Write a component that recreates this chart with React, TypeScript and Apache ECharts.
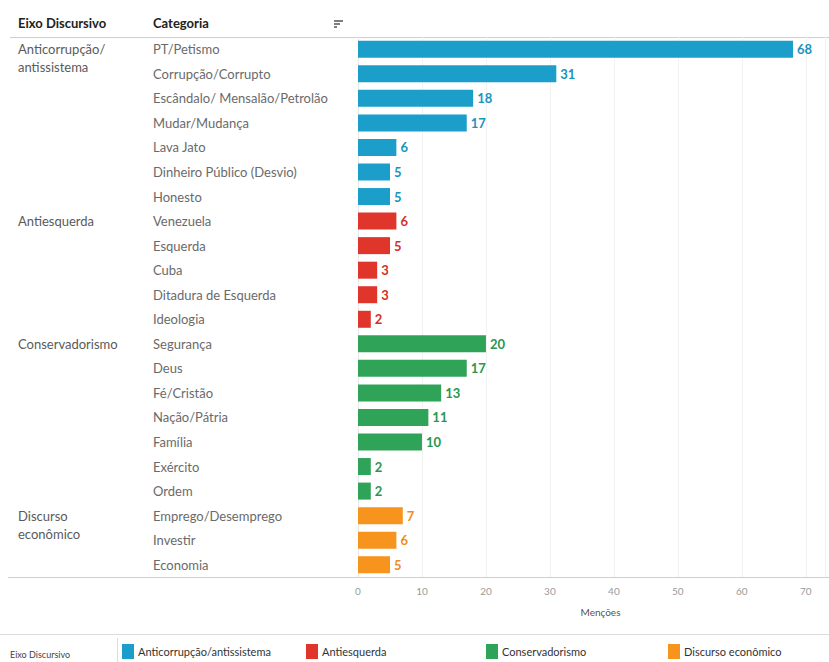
import React, { useEffect, useRef } from "react";
import * as echarts from "echarts";

const categories = [
  "PT/Petismo", "Corrupção/Corrupto", "Escândalo/ Mensalão/Petrolão", "Mudar/Mudança", "Lava Jato", "Dinheiro Público (Desvio)", "Honesto",
  "Venezuela", "Esquerda", "Cuba", "Ditadura de Esquerda", "Ideologia",
  "Segurança", "Deus", "Fé/Cristão", "Nação/Pátria", "Família", "Exército", "Ordem",
  "Emprego/Desemprego", "Investir", "Economia",
];
const values = [68, 31, 18, 17, 6, 5, 5, 6, 5, 3, 3, 2, 20, 17, 13, 11, 10, 2, 2, 7, 6, 5];
const groups = ["Anticorrupção/antissistema", "Antiesquerda", "Conservadorismo", "Discurso econômico"];
const groupLabels = ["Anticorrupção/\nantissistema", "Antiesquerda", "Conservadorismo", "Discurso\neconômico"];
const groupSizes = [7, 5, 7, 3];
const colors = ["#1b9fca", "#e0352b", "#2fa358", "#f7941d"];
const labelColors = ["#1a93bd", "#d42f26", "#2a9650", "#ef8c1a"];
const xTicks = { min: 0, max: 73, interval: 10 };

const FONT = "Lato";

export default function App() {
  const ref = useRef<HTMLDivElement>(null);
  useEffect(() => {
    document.body.style.margin = "0";
    const chart = echarts.init(ref.current!, null, { renderer: "svg" });
    const groupOf: number[] = [];
    const firstIdx: Record<number, number> = {};
    let k = 0;
    groupSizes.forEach((n, g) => {
      firstIdx[k] = g;
      for (let i = 0; i < n; i++) { groupOf.push(g); k++; }
    });
    const series = groups.map((g, gi) => ({
      type: "bar",
      name: g,
      stack: "total",
      yAxisIndex: 0,
      barWidth: 17,
      itemStyle: { color: colors[gi] },
      label: {
        show: true,
        position: "right",
        distance: 4,
        color: labelColors[gi],
        fontWeight: "bold",
        fontSize: 13,
        fontFamily: FONT,
      },
      data: values.map((v, i) => (groupOf[i] === gi ? v : null)),
    }));
    const legendX = [122, 306, 486, 668];
    chart.setOption({
      animation: false,
      textStyle: { fontFamily: FONT },
      grid: { left: 358, right: 4, top: 37, bottom: 85, containLabel: false },
      xAxis: {
        type: "value",
        min: xTicks.min,
        max: xTicks.max,
        interval: xTicks.interval,
        axisLine: { show: false },
        axisTick: { show: false },
        splitLine: { show: true, lineStyle: { color: "#f1f1f1" } },
        axisLabel: {
          color: "#9a9a9a",
          fontSize: 10,
          margin: 9,
          formatter: (v: number) => (v % 10 === 0 ? String(v) : ""),
        },
        name: "Menções",
        nameLocation: "middle",
        nameGap: 30,
        nameTextStyle: { color: "#555", fontSize: 10, padding: [0, 0, 0, 18] },
      },
      yAxis: [
        {
          type: "category",
          inverse: true,
          data: categories,
          axisLine: { show: true, lineStyle: { color: "#e8e8e8" } },
          axisTick: { show: false },
          axisLabel: {
            interval: 0,
            align: "left",
            margin: 205,
            color: "#6a6a6a",
            fontSize: 13,
            fontFamily: FONT,
          },
        },
        {
          type: "category",
          inverse: true,
          position: "left",
          data: categories,
          axisLine: { show: false },
          axisTick: { show: false },
          axisLabel: {
            interval: 0,
            align: "left",
            margin: 340,
            color: "#5a5a5a",
            fontSize: 13,
            lineHeight: 18,
            fontFamily: FONT,
            formatter: (_v: string, i: number) => {
              const g = firstIdx[i];
              if (g === undefined) return "";
              const lbl = groupLabels[g];
              return lbl.includes("\n") ? "\u00a0\n" + lbl : lbl;
            },
          },
        },
      ],
      legend: groups.map((g, gi) => ({
        data: [g],
        left: legendX[gi],
        top: 644,
        padding: 0,
        icon: "rect",
        itemWidth: 12,
        itemHeight: 15,
        itemGap: 4,
        selectedMode: false,
        textStyle: { fontSize: 11, color: "#333", fontFamily: FONT, padding: [0, 0, 0, -1] },
      })),
      series,
      graphic: [
        { type: "text", left: 18, top: 16, style: { text: "Eixo Discursivo", fontSize: 13, fontWeight: "bold", fill: "#222", fontFamily: FONT } },
        { type: "text", left: 153, top: 16, style: { text: "Categoria", fontSize: 13, fontWeight: "bold", fill: "#222", fontFamily: FONT } },
        { type: "line", shape: { x1: 334, y1: 21, x2: 343, y2: 21 }, style: { stroke: "#555", lineWidth: 1.5 } },
        { type: "line", shape: { x1: 334, y1: 24, x2: 340, y2: 24 }, style: { stroke: "#555", lineWidth: 1.5 } },
        { type: "line", shape: { x1: 334, y1: 27, x2: 337, y2: 27 }, style: { stroke: "#555", lineWidth: 1.5 } },
        { type: "line", shape: { x1: 10, y1: 37.5, x2: 829, y2: 37.5 }, style: { stroke: "#cfcfcf", lineWidth: 1 } },
        { type: "line", shape: { x1: 8, y1: 577.5, x2: 829, y2: 577.5 }, style: { stroke: "#cfcfcf", lineWidth: 1 } },
        { type: "line", shape: { x1: 0, y1: 634.5, x2: 829, y2: 634.5 }, style: { stroke: "#dcdcdc", lineWidth: 1 } },
        { type: "line", shape: { x1: 117.5, y1: 638, x2: 117.5, y2: 662 }, style: { stroke: "#dcdcdc", lineWidth: 1 } },
        { type: "text", left: 10, top: 650, style: { text: "Eixo Discursivo", fontSize: 9, fill: "#444", fontFamily: FONT } },
      ],
    });
    return () => chart.dispose();
  }, []);
  return <div ref={ref} style={{ width: 829, height: 662 }} />;
}
